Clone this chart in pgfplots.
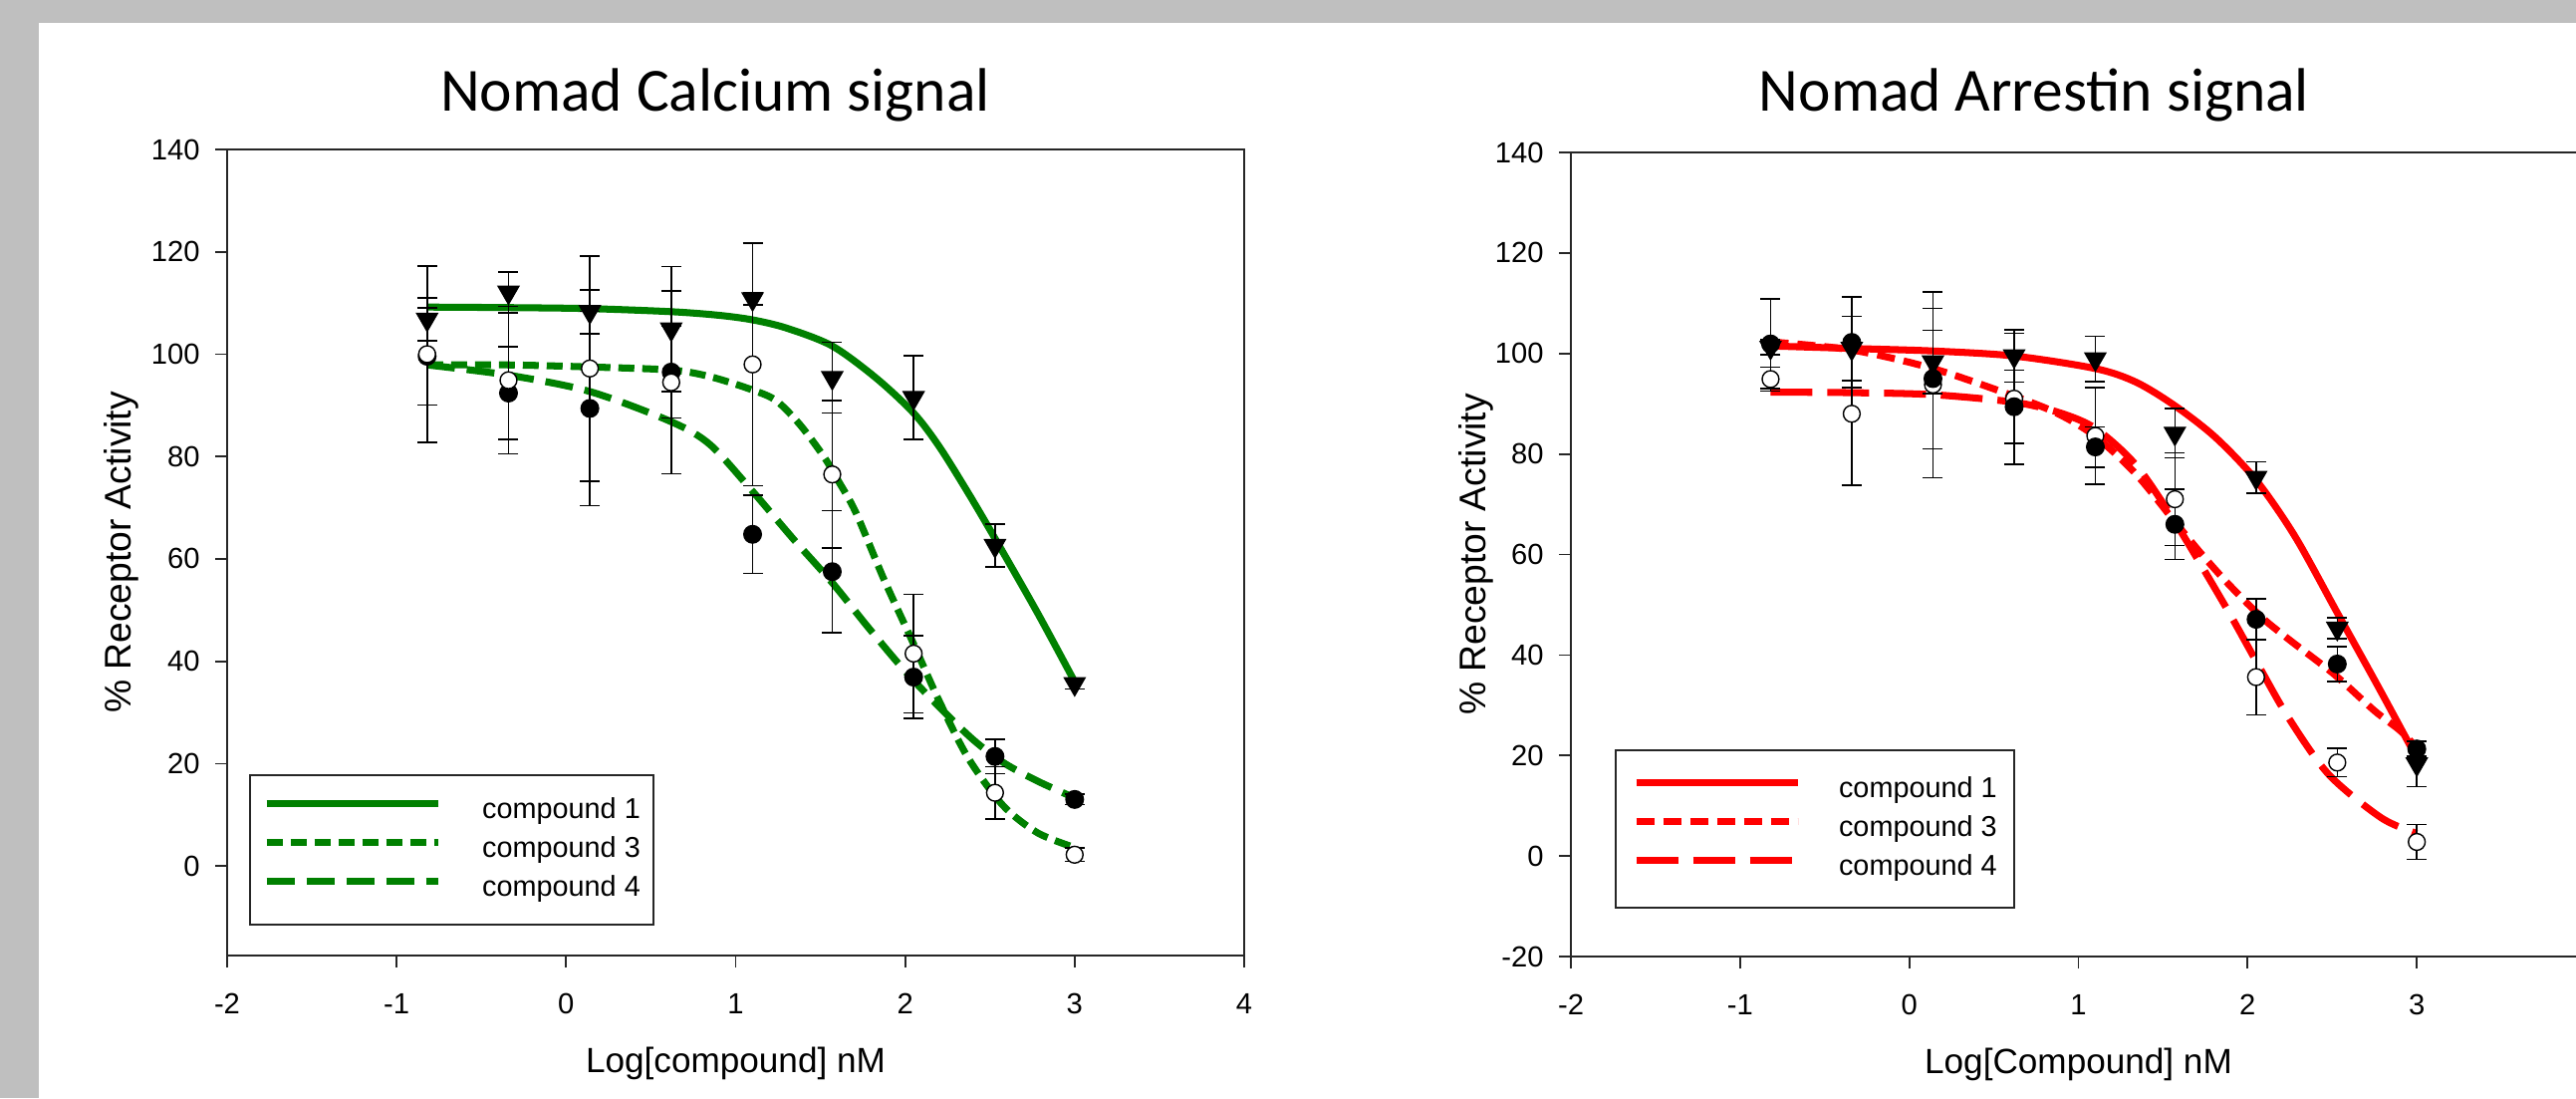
\documentclass[border=0pt]{standalone}
\usepackage{pgfplots}
\pgfplotsset{compat=1.18}
\usepackage{fontspec}
\setmainfont{Liberation Sans}
\newfontfamily\titlefont{Carlito}
\definecolor{bggray}{RGB}{191,191,191}
\definecolor{fitgreen}{RGB}{0,128,0}
\definecolor{fitred}{RGB}{255,0,0}

% measured data: x = log conc, y = % activity, e = error
\pgfplotstableread{
x y e
-0.82 106.8 4.2
-0.34 112.1 4.0
0.14 108.3 4.3
0.62 104.9 12.2
1.10 110.8 1.2
1.57 95.4 6.9
2.05 91.5 8.2
2.53 62.6 4.2
3.00 35.6 1.0
}\caOne
\pgfplotstableread{
x y e
-0.82 100.0 17.2
-0.34 94.9 14.4
0.14 97.2 22.0
0.62 94.5 17.9
1.10 98.0 23.7
1.57 76.5 14.4
2.05 41.5 11.6
2.53 14.3 5.1
3.00 2.2 1.3
}\caOpen
\pgfplotstableread{
x y e
-0.82 99.6 9.5
-0.34 92.4 9.0
0.14 89.4 19.0
0.62 96.5 9.0
1.10 64.8 7.6
1.57 57.5 11.9
2.05 36.9 8.1
2.53 21.4 3.4
3.00 13.0 1.0
}\caFilled
\pgfplotstableread{
x y e
-0.82 101.2 1.5
-0.34 101.0 6.4
0.14 98.3 6.3
0.62 99.5 5.2
1.10 98.9 4.5
1.57 84.1 4.9
2.05 75.3 3.1
2.53 45.3 2.1
3.00 18.3 4.5
}\arOne
\pgfplotstableread{
x y e
-0.82 94.9 2.4
-0.34 88.0 14.2
0.14 93.8 18.5
0.62 91.0 13.0
1.10 83.6 9.6
1.57 71.0 9.2
2.05 35.6 7.5
2.53 18.6 2.8
3.00 2.8 3.5
}\arOpen
\pgfplotstableread{
x y e
-0.82 101.9 8.9
-0.34 102.2 9.0
0.14 95.0 14.0
0.62 89.4 7.3
1.10 81.4 4.0
1.57 66.0 7.0
2.05 47.1 4.1
2.53 38.2 3.5
3.00 21.3 1.5
}\arFilled

\pgfplotsset{
  doseaxis/.style={
    scale only axis, anchor=south west,
    xmin=-2, xmax=4, xtick={-2,-1,...,4},
    axis line style={black!85, line width=0.5pt},
    tick style={black!85, line width=0.5pt},
    tick align=outside, major tick length=0.12cm,
    xtick pos=bottom, ytick pos=left,
    /pgf/number format/assume math mode=true,
    tick label style={font=\fontsize{8.3}{10}\selectfont},
    xticklabel style={yshift=-0.14cm},
    yticklabel style={xshift=-0.03cm},
    xlabel style={font=\fontsize{10}{12}\selectfont, anchor=center},
    ylabel style={font=\fontsize{10.6}{12}\selectfont, anchor=center},
    legend cell align=left,
  },
  errs/.style={
    only marks, forget plot,
    error bars/y dir=both, error bars/y explicit,
    error bars/error bar style={black, line width=0.45pt},
    error bars/error mark options={rotate=90, black, mark size=0.1cm, line width=0.45pt},
  },
  tri/.style={errs, mark=triangle*, mark size=3.4pt,
    mark options={rotate=180, fill=black, draw=black}},
  opencirc/.style={errs, mark=*, mark size=2.4pt,
    mark options={fill=white, draw=black, line width=0.4pt}},
  fillcirc/.style={errs, mark=*, mark size=2.5pt,
    mark options={fill=black, draw=black}},
}

\begin{document}
\begin{tikzpicture}
\useasboundingbox (0,0) rectangle (25.86,11.02);
\fill[bggray] (0,0) rectangle (25.86,11.02);
\fill[white] (0.39,0) rectangle (25.86,10.79);

\node[anchor=base, font=\titlefont\fontsize{17.5}{20}\selectfont] at (7.18,9.90) {Nomad Calcium signal};
\node[anchor=base, font=\titlefont\fontsize{17.5}{20}\selectfont] at (20.42,9.90) {Nomad Arrestin signal};

% ---- calcium panel
\begin{axis}[doseaxis,
    at={(2.28cm,1.43cm)}, width=10.21cm, height=8.09cm,
    ymin=-17.5, ymax=140, ytick={0,20,...,140},
    xlabel={Log[compound] nM}, ylabel={\% Receptor Activity},
    xlabel style={at={(axis description cs:0.5,-0.1335)}},
    ylabel style={at={(axis description cs:-0.1038,0.5)}},
    legend style={at={(axis cs:-1.87,17.9)}, anchor=north west,
      draw=black!85, line width=0.6pt, fill=white,
      font=\fontsize{8.2}{9.8}\selectfont,
      inner xsep=0.13cm, inner ysep=0.22cm, row sep=0.11cm, column sep=0.41cm,
      nodes={inner sep=0pt, text height=0.21cm, text depth=0.07cm}},
    legend image code/.code={\draw[#1] (0cm,0.08cm) -- (1.72cm,0.08cm);},
  ]
\addplot[fitgreen, line width=2pt, smooth] coordinates {
  (-0.82,109.2) (-0.34,109.1) (0.14,108.9) (0.62,108.3) (0.9,107.6) (1.1,106.7)
  (1.3,105.1) (1.57,101.6) (1.83,95.3) (2.05,88.5) (2.2,82) (2.37,73) (2.53,64)
  (2.78,49.5) (3.0,36)};
\addlegendentry{compound 1}
\addplot[fitgreen, line width=2pt, smooth, dash pattern=on 0.16cm off 0.08cm] coordinates {
  (-0.82,97.9) (-0.34,97.9) (0.14,97.5) (0.62,96.9) (0.85,95.6) (1.1,93)
  (1.24,90.9) (1.38,86.2) (1.52,80) (1.61,75) (1.71,69) (1.875,56)
  (2.04,44.1) (2.2,32.3) (2.37,21.2) (2.575,11.9) (2.78,6.5) (3.0,3.6)};
\addlegendentry{compound 3}
\addplot[fitgreen, line width=2pt, smooth, dash pattern=on 0.28cm off 0.12cm] coordinates {
  (-0.82,97.9) (-0.34,95.9) (0.14,92.7) (0.62,86.8) (0.85,82.3) (1.1,73.2)
  (1.34,63.9) (1.566,55.5) (1.79,46.3) (2.04,36.6) (2.37,25.6) (2.575,20.3)
  (2.78,16.6) (3.0,13.3)};
\addlegendentry{compound 4}
\addplot[fillcirc] table[x=x, y=y, y error=e] {\caFilled};
\addplot[opencirc] table[x=x, y=y, y error=e] {\caOpen};
\addplot[tri] table[x=x, y=y, y error=e] {\caOne};
\end{axis}

% ---- arrestin panel
\begin{axis}[doseaxis,
    at={(15.77cm,1.42cm)}, width=10.19cm, height=8.07cm,
    ymin=-20, ymax=140, ytick={-20,0,...,140},
    xticklabels={-2,-1,0,1,2,3,{}},
    xlabel={Log[Compound] nM}, ylabel={\% Receptor Activity},
    xlabel style={at={(axis description cs:0.5,-0.1338)}},
    ylabel style={at={(axis description cs:-0.0932,0.5)}},
    legend style={at={(axis cs:-1.741,21.2)}, anchor=north west,
      draw=black!85, line width=0.6pt, fill=white,
      font=\fontsize{8.2}{9.8}\selectfont,
      inner xsep=0.17cm, inner ysep=0.26cm, row sep=0.11cm, column sep=0.38cm,
      nodes={inner sep=0pt, text height=0.21cm, text depth=0.07cm}},
    legend image code/.code={\draw[#1] (0cm,0.08cm) -- (1.62cm,0.08cm);},
  ]
\addplot[fitred, line width=2pt, smooth] coordinates {
  (-0.82,101.5) (-0.34,101.0) (0.14,100.5) (0.62,99.5) (1.1,97.0) (1.34,94.3)
  (1.57,89.6) (1.81,83.3) (2.05,74.8) (2.28,63.6) (2.53,48.4) (2.78,33.2) (3.0,19.5)};
\addlegendentry{compound 1}
\addplot[fitred, line width=2pt, smooth, dash pattern=on 0.18cm off 0.09cm] coordinates {
  (-0.82,102.3) (-0.34,100.7) (0.14,97) (0.62,91.5) (0.88,88) (1.1,83.5)
  (1.34,76) (1.57,66.5) (1.73,60) (1.89,54) (2.08,47.6) (2.24,43.2)
  (2.51,36.2) (2.75,28.9) (2.9,25) (3.0,21.5)};
\addlegendentry{compound 3}
\addplot[fitred, line width=2pt, smooth, dash pattern=on 0.42cm off 0.15cm] coordinates {
  (-0.82,92.3) (-0.34,92.2) (0.14,91.8) (0.62,90.3) (0.88,88.3) (1.1,85.1)
  (1.34,77.8) (1.57,66.5) (1.86,50.2) (2.05,38.8) (2.24,27.6) (2.48,16.2)
  (2.79,7.6) (3.0,4.5)};
\addlegendentry{compound 4}
\addplot[opencirc] table[x=x, y=y, y error=e] {\arOpen};
\addplot[fillcirc] table[x=x, y=y, y error=e] {\arFilled};
\addplot[tri] table[x=x, y=y, y error=e] {\arOne};
\end{axis}
\end{tikzpicture}
\end{document}
